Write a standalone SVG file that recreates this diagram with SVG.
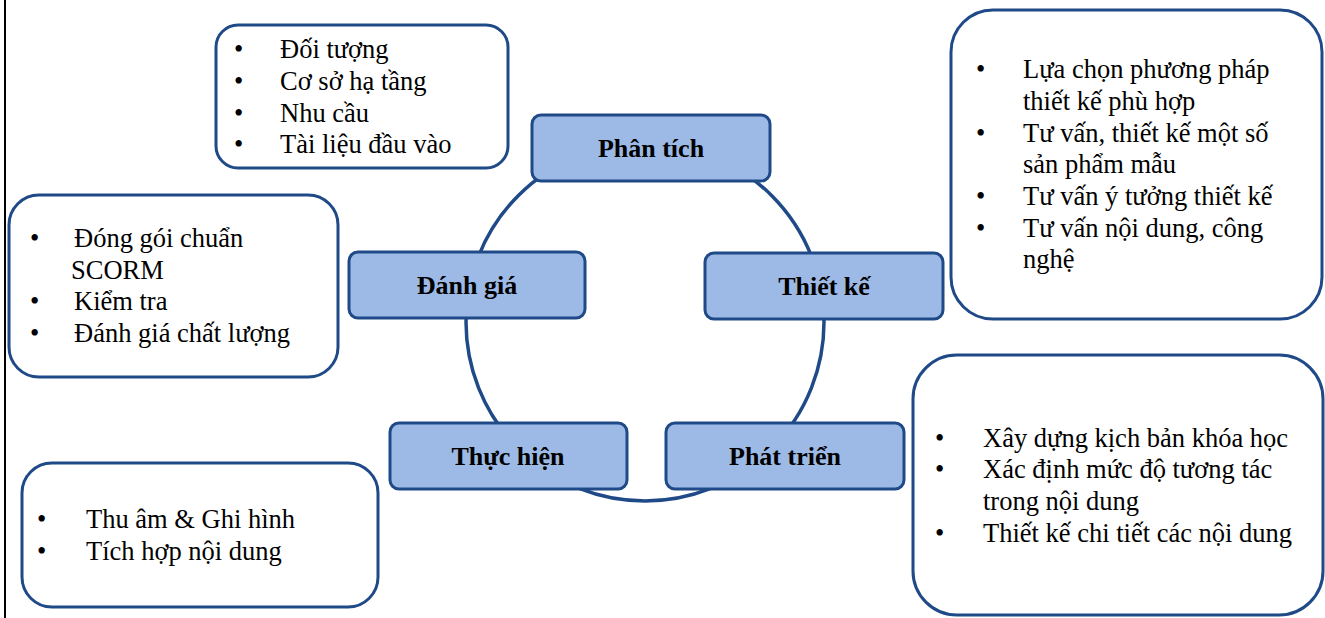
<svg xmlns="http://www.w3.org/2000/svg" width="1325" height="618" viewBox="0 0 1325 618">
<style>
.box{fill:#fff;stroke:#1F4A87;stroke-width:3}
.node{fill:#9DBAE6;stroke:#1F4A87;stroke-width:3}
.t{font-size:26.5px;fill:#000}
.b{font-size:26px;font-weight:bold;fill:#000;text-anchor:middle}
.ring{fill:none;stroke:#1F4A87;stroke-width:3.5}
</style>
<rect width="1325" height="618" fill="#fff"/>
<line x1="5" y1="0" x2="5" y2="618" stroke="#000" stroke-width="2"/>
<g id="connectors">
<circle class="ring" cx="645" cy="322" r="179"/>
</g>
<g font-family="'Liberation Serif', 'Times New Roman', serif">
<g id="box-phantich">
<rect class="box" x="216" y="25" width="292" height="143" rx="22"/>
<text class="t" x="234" y="58">•</text><text class="t" x="280" y="58">Đối tượng</text>
<text class="t" x="234" y="90">•</text><text class="t" x="280" y="90">Cơ sở hạ tầng</text>
<text class="t" x="234" y="122">•</text><text class="t" x="280" y="122">Nhu cầu</text>
<text class="t" x="234" y="153">•</text><text class="t" x="280" y="153">Tài liệu đầu vào</text>
</g>
<g id="box-danhgia">
<rect class="box" x="9" y="195" width="329" height="182" rx="30"/>
<text class="t" x="30" y="247">•</text><text class="t" x="74" y="247">Đóng gói chuẩn</text>
<text class="t" x="71" y="279">SCORM</text>
<text class="t" x="30" y="310">•</text><text class="t" x="74" y="310">Kiểm tra</text>
<text class="t" x="30" y="342">•</text><text class="t" x="74" y="342">Đánh giá chất lượng</text>
</g>
<g id="box-thuchien">
<rect class="box" x="22" y="463" width="356" height="144" rx="30"/>
<text class="t" x="37" y="528">•</text><text class="t" x="86" y="528">Thu âm &amp; Ghi hình</text>
<text class="t" x="37" y="560">•</text><text class="t" x="86" y="560">Tích hợp nội dung</text>
</g>
<g id="box-thietke">
<rect class="box" x="951" y="10" width="371" height="309" rx="42"/>
<text class="t" x="976" y="78">•</text><text class="t" x="1023" y="78">Lựa chọn phương pháp</text>
<text class="t" x="1023" y="110">thiết kế phù hợp</text>
<text class="t" x="976" y="142">•</text><text class="t" x="1023" y="142">Tư vấn, thiết kế một số</text>
<text class="t" x="1023" y="173">sản phẩm mẫu</text>
<text class="t" x="976" y="205">•</text><text class="t" x="1023" y="205">Tư vấn ý tưởng thiết kế</text>
<text class="t" x="976" y="237">•</text><text class="t" x="1023" y="237">Tư vấn nội dung, công</text>
<text class="t" x="1023" y="268">nghệ</text>
</g>
<g id="box-phattrien">
<rect class="box" x="913" y="355" width="410" height="260" rx="44"/>
<text class="t" x="935" y="447">•</text><text class="t" x="983" y="447">Xây dựng kịch bản khóa học</text>
<text class="t" x="935" y="478">•</text><text class="t" x="983" y="478">Xác định mức độ tương tác</text>
<text class="t" x="983" y="510">trong nội dung</text>
<text class="t" x="935" y="542">•</text><text class="t" x="983" y="542">Thiết kế chi tiết các nội dung</text>
</g>
<g id="node-phantich">
<rect class="node" x="532" y="115" width="238" height="66" rx="9"/>
<text class="b" x="651" y="157">Phân tích</text>
</g>
<g id="node-thietke">
<rect class="node" x="705" y="253" width="238" height="66" rx="9"/>
<text class="b" x="824" y="295">Thiết kế</text>
</g>
<g id="node-danhgia">
<rect class="node" x="349" y="252" width="236" height="66" rx="9"/>
<text class="b" x="467" y="294">Đánh giá</text>
</g>
<g id="node-thuchien">
<rect class="node" x="390" y="423" width="237" height="66" rx="9"/>
<text class="b" x="508" y="465">Thực hiện</text>
</g>
<g id="node-phattrien">
<rect class="node" x="666" y="423" width="238" height="66" rx="9"/>
<text class="b" x="785" y="465">Phát triển</text>
</g>
</g>
</svg>
